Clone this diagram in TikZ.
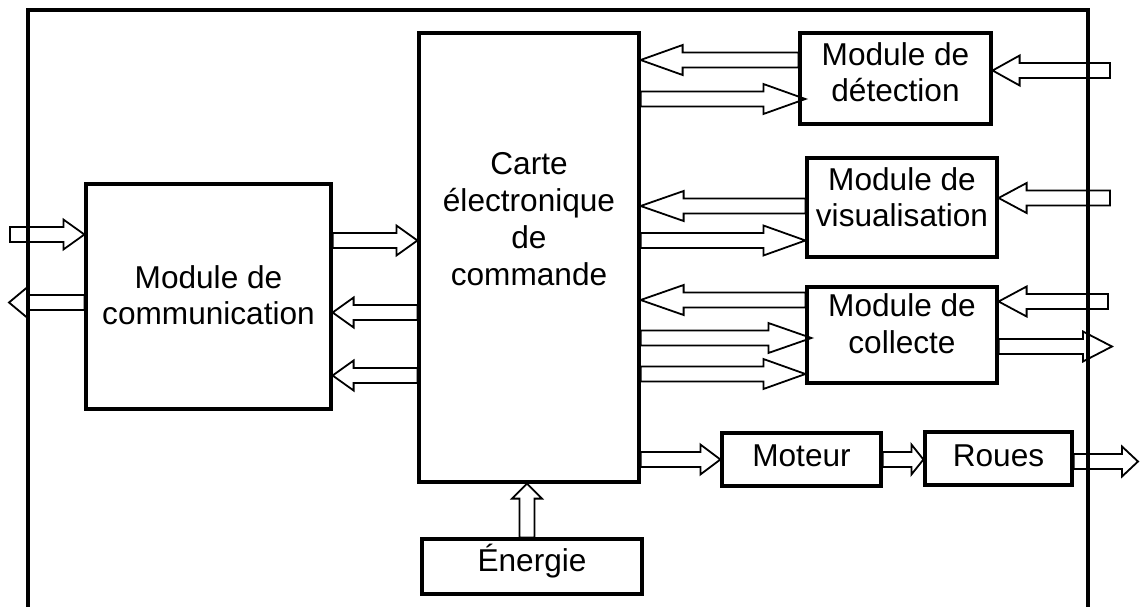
\documentclass[tikz,border=0pt]{standalone}
\usepackage{fontspec}
\setmainfont{Liberation Sans}
\usetikzlibrary{calc}

\tikzset{
  bloc/.style={draw=black, line width=3.2pt, rectangle, inner sep=2pt, align=center,
    font=\fontsize{31.6}{36.8}\selectfont},
  fleche/.style={draw=black, line width=1.8pt, line join=miter, to path={
    let \p1=(\tikztostart), \p2=(\tikztotarget), \p3=($(\p2)!#1!(\p1)$) in
    ($(\p1)!7.5pt!90:(\p2)$) -- ($(\p3)!7.5pt!90:(\p2)$) -- ($(\p3)!15pt!90:(\p2)$) -- (\p2)
    -- ($(\p3)!15pt!-90:(\p2)$) -- ($(\p3)!7.5pt!-90:(\p2)$) -- ($(\p1)!7.5pt!-90:(\p2)$) -- cycle}},
  fleche/.default=20pt,
  cadre/.style={draw=black, line width=3.2pt}
}

\begin{document}
\begin{tikzpicture}[x=1pt, y=-1pt]

  \useasboundingbox (0,0) rectangle (1141,607);

  \draw[cadre] (28,607) -- (28,10) -- (1088,10) -- (1088,607);

  \node[bloc, minimum width=220pt, minimum height=449pt, text depth=77.2pt] (carte) at (529,257.5) {Carte\\électronique\\de\\commande};
  \node[bloc, minimum width=245pt, minimum height=225pt, text depth=2.8pt] (comm) at (208.5,296.5) {Module de\\communication};

  \node[bloc, minimum width=191pt, minimum height=91pt, text depth=12.8pt] (det) at (895.5,78.5) {Module de\\détection};
  \node[bloc, minimum width=190pt, minimum height=99pt, text depth=20.8pt] (visu) at (902,207.5) {Module de\\visualisation};
  \node[bloc, minimum width=190pt, minimum height=96pt, text depth=22.4pt] (coll) at (902,335) {Module de\\collecte};

  \node[bloc, minimum width=159pt, minimum height=53pt, text depth=8.4pt] (moteur) at (801.5,459.5) {Moteur};
  \node[bloc, minimum width=147pt, minimum height=53pt, text depth=6.4pt] (roues) at (998.5,458.5) {Roues};
  \node[bloc, minimum width=220pt, minimum height=55pt, text depth=17.6pt] (energie) at (532,566.5) {Énergie};

  \coordinate (entree1) at (10,234.5);
  \coordinate (sortie1) at (9,302.5);
  \coordinate (entree2) at (1110,70.5);
  \coordinate (entree3) at (1110,198);
  \coordinate (entree4) at (1108,301.5);
  \coordinate (sortie2) at (1112,346.5);
  \coordinate (sortie3) at (1138,461.5);

  \draw[fleche=21pt] (entree1) to (comm.west |- entree1);
  \draw[fleche=18pt] (comm.west |- sortie1) to (sortie1);
  \draw[fleche=21pt] (comm.east |- 0,240.5) to (carte.west |- 0,240.5);
  \draw[fleche=21pt] (carte.west |- 0,312.5) to (comm.east |- 0,312.5);
  \draw[fleche=21pt] (carte.west |- 0,375.5) to (comm.east |- 0,375.5);

  \draw[fleche=42pt] (det.west |- 0,60) to (carte.east |- 0,60);
  \draw[fleche=42pt] (carte.east |- 0,99) to ($(det.west |- 0,99)+(7,0)$);
  \draw[fleche=27pt] (entree2) to (det.east |- entree2);

  \draw[fleche=43pt] (visu.west |- 0,206) to (carte.east |- 0,206);
  \draw[fleche=42pt] (carte.east |- 0,240.5) to (visu.west |- 0,240.5);
  \draw[fleche=28pt] (entree3) to (visu.east |- entree3);

  \draw[fleche=43pt] (coll.west |- 0,300) to (carte.east |- 0,300);
  \draw[fleche=43pt] (carte.east |- 0,338) to ($(coll.west |- 0,338)+(6,0)$);
  \draw[fleche=42pt] (carte.east |- 0,374) to (coll.west |- 0,374);
  \draw[fleche=28pt] (entree4) to (coll.east |- entree4);
  \draw[fleche=29pt] (coll.east |- sortie2) to (sortie2);

  \draw[fleche=20pt] (carte.east |- 0,459.5) to (moteur.west |- 0,459.5);
  \draw[fleche=12pt] (moteur.east |- 0,459.5) to (roues.west |- 0,459.5);
  \draw[fleche=16pt] (roues.east |- sortie3) to (sortie3);

  \draw[fleche=15pt] (energie.north -| 527,0) to (carte.south -| 527,0);

\end{tikzpicture}
\end{document}
